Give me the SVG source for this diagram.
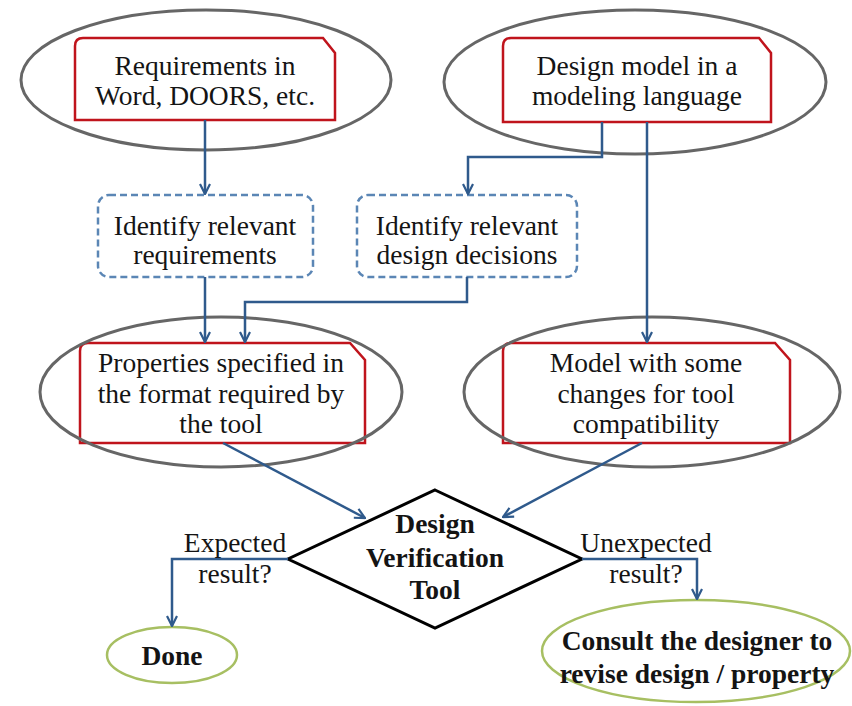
<svg xmlns="http://www.w3.org/2000/svg" width="852" height="706" viewBox="0 0 852 706">
  <style>
    .oval { fill: none; stroke: #666666; stroke-width: 3; }
    .doc { fill: #ffffff; stroke: #c0141c; stroke-width: 2.5; }
    .step { fill: #ffffff; stroke: #5b86b5; stroke-width: 2.5; stroke-dasharray: 7 4; }
    .end { fill: #ffffff; stroke: #a7bf62; stroke-width: 2.5; }
    .decide { fill: #ffffff; stroke: #000000; stroke-width: 3; }
    .t { font-family: "Liberation Serif", "Times New Roman", serif; font-size: 27.5px; fill: #141414; text-anchor: middle; }
    .b { font-weight: bold; }
    .link { fill: none; stroke: #2f5a8c; stroke-width: 2.5; marker-end: url(#head); }
  </style>
  <defs>
    <marker id="head" viewBox="0 0 12 12" refX="11" refY="6" markerWidth="12" markerHeight="12" markerUnits="userSpaceOnUse" orient="auto">
      <path d="M1,1 L11,6 L1,11" fill="none" stroke="#2f5a8c" stroke-width="2.2"/>
    </marker>
  </defs>
  <rect width="852" height="706" fill="#ffffff"/>

  <g id="requirements">
    <path class="doc" d="M75,120 V46 Q75,38 83,38 H323 L335,53 V120 Z"/>
    <ellipse class="oval" cx="206" cy="80" rx="185" ry="70"/>
    <text class="t" x="205" y="75">Requirements in</text>
    <text class="t" x="205" y="105">Word, DOORS, etc.</text>
  </g>

  <g id="design-model">
    <path class="doc" d="M503,122 V46 Q503,38 511,38 H759 L771,53 V122 Z"/>
    <ellipse class="oval" cx="635" cy="82" rx="191" ry="72"/>
    <text class="t" x="637" y="75">Design model in a</text>
    <text class="t" x="637" y="105">modeling language</text>
  </g>

  <g id="identify-requirements">
    <rect class="step" x="98" y="195" width="215" height="82" rx="11"/>
    <text class="t" x="205" y="235">Identify relevant</text>
    <text class="t" x="205" y="264">requirements</text>
  </g>

  <g id="identify-decisions">
    <rect class="step" x="357" y="195" width="220" height="82" rx="11"/>
    <text class="t" x="467" y="235">Identify relevant</text>
    <text class="t" x="467" y="264">design decisions</text>
  </g>

  <g id="properties">
    <path class="doc" d="M80,443 V351 Q80,343 88,343 H350 L365,360 V443 Z"/>
    <ellipse class="oval" cx="221" cy="392" rx="181" ry="75"/>
    <text class="t" x="221" y="372">Properties specified in</text>
    <text class="t" x="221" y="403">the format required by</text>
    <text class="t" x="221" y="433">the tool</text>
  </g>

  <g id="tool-model">
    <path class="doc" d="M503,443 V351 Q503,343 511,343 H775 L790,360 V443 Z"/>
    <ellipse class="oval" cx="652" cy="392" rx="188" ry="75"/>
    <text class="t" x="646" y="372">Model with some</text>
    <text class="t" x="646" y="403">changes for tool</text>
    <text class="t" x="646" y="433">compatibility</text>
  </g>

  <g id="verification-tool">
    <polygon class="decide" points="435,490 582,559 435,628 288,559"/>
    <text class="t b" x="435" y="533">Design</text>
    <text class="t b" x="435" y="567">Verification</text>
    <text class="t b" x="435" y="599">Tool</text>
  </g>

  <g id="done">
    <ellipse class="end" cx="172" cy="655" rx="65" ry="28"/>
    <text class="t b" x="172" y="665">Done</text>
  </g>

  <g id="consult">
    <ellipse class="end" cx="696" cy="651" rx="154" ry="51"/>
    <text class="t b" x="697" y="650">Consult the designer to</text>
    <text class="t b" x="697" y="683">revise design / property</text>
  </g>

  <g id="connectors">
    <path class="link" d="M205,120 V194"/>
    <path class="link" d="M602,122 V157 H468 V194"/>
    <path class="link" d="M647,122 V342"/>
    <path class="link" d="M205,277 V342"/>
    <path class="link" d="M467,277 V302 H245 V342"/>
    <path class="link" d="M223,443 L365,518"/>
    <path class="link" d="M642,443 L503,517"/>
    <path class="link" d="M288,559 H172 V626"/>
    <path class="link" d="M582,559 H697 V599"/>
    <text class="t" x="235" y="552">Expected</text>
    <text class="t" x="235" y="583">result?</text>
    <text class="t" x="646" y="552">Unexpected</text>
    <text class="t" x="646" y="583">result?</text>
  </g>
</svg>
